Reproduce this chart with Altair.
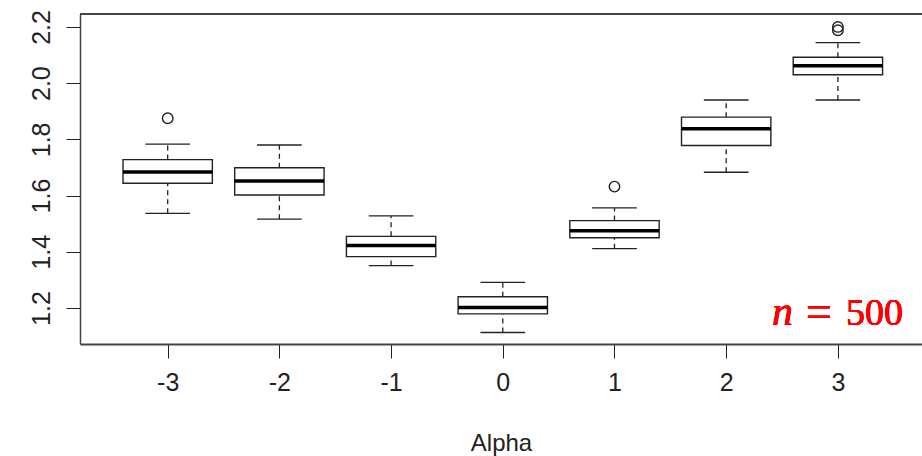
import altair as alt
import pandas as pd

# Box-plot summary values (y = estimate, x = Alpha)
alphas  = [-3, -2, -1, 0, 1, 2, 3]
lower   = [1.537, 1.516, 1.351, 1.113, 1.411, 1.683, 1.940]
q1      = [1.644, 1.602, 1.383, 1.179, 1.450, 1.778, 2.030]
median  = [1.684, 1.652, 1.422, 1.202, 1.475, 1.838, 2.062]
q3      = [1.728, 1.699, 1.455, 1.240, 1.511, 1.879, 2.092]
upper   = [1.783, 1.780, 1.528, 1.291, 1.556, 1.940, 2.144]

out_alpha = [-3, 1, 3, 3]
out_value = [1.875, 1.632, 2.200, 2.188]

x_ticks = [-3, -2, -1, 0, 1, 2, 3]
y_ticks = [1.2, 1.4, 1.6, 1.8, 2.0, 2.2]

W, H = 842, 330
BOX_HALF = 0.4
CAP_HALF = 0.2

df = pd.DataFrame(dict(alpha=alphas, lower=lower, q1=q1, median=median, q3=q3, upper=upper))
odf = pd.DataFrame(dict(alpha=out_alpha, value=out_value))

SANS = "Liberation Sans Narrow, Arial Narrow, Liberation Sans, Arial, sans-serif"
SERIF = "Liberation Serif, DejaVu Serif, serif"
INK = "#222222"
RED = "#ff0000"

xscale = alt.Scale(domain=[-3.785, 3.753], nice=False, zero=False)
yscale = alt.Scale(domain=[1.072, 2.246], nice=False, zero=False)

xaxis = alt.Axis(values=x_ticks, labelExpr="'' + datum.value", title="Alpha",
                 grid=False, tickSize=14, tickColor=INK, domainColor="#444444",
                 domainWidth=2, labelFont=SANS, labelFontSize=25, labelColor=INK,
                 labelPadding=12, titleFont=SANS, titleFontSize=24,
                 titleFontWeight="normal", titleColor=INK, titlePadding=36)
yaxis = alt.Axis(values=y_ticks, format=".1f", title=None, grid=False,
                 tickSize=14, tickColor=INK, domainColor="#444444", domainWidth=1.5,
                 labelAngle=270, labelFont=SANS, labelFontSize=25, labelColor=INK,
                 labelPadding=12)

base = alt.Chart(df).transform_calculate(
    xlo=f"datum.alpha - {BOX_HALF}", xhi=f"datum.alpha + {BOX_HALF}",
    clo=f"datum.alpha - {CAP_HALF}", chi=f"datum.alpha + {CAP_HALF}")

X = lambda f, **k: alt.X(f, type="quantitative", scale=xscale, **k)
Y = lambda f, **k: alt.Y(f, type="quantitative", scale=yscale, **k)

whisk_hi = base.mark_rule(color=INK, strokeWidth=1.3, strokeDash=[5, 4]).encode(
    x=X("alpha", axis=xaxis), y=Y("q3", axis=yaxis), y2="upper")
whisk_lo = base.mark_rule(color=INK, strokeWidth=1.3, strokeDash=[5, 4]).encode(
    x=X("alpha"), y=Y("lower"), y2="q1")
cap_hi = base.mark_rule(color=INK, strokeWidth=1.3).encode(x=X("clo"), x2="chi", y=Y("upper"))
cap_lo = base.mark_rule(color=INK, strokeWidth=1.3).encode(x=X("clo"), x2="chi", y=Y("lower"))
boxes = base.mark_rect(fill="white", stroke=INK, strokeWidth=1.4).encode(
    x=X("xlo"), x2="xhi", y=Y("q1"), y2="q3")
med = base.mark_rule(color="#000000", strokeWidth=3.5).encode(x=X("xlo"), x2="xhi", y=Y("median"))
outl = alt.Chart(odf).mark_point(shape="circle", filled=False, size=110, color=INK,
                                 strokeWidth=1.4, opacity=1).encode(x=X("alpha"), y=Y("value"))

top_rule = alt.Chart(df).mark_rule(color="#444444", strokeWidth=1.5).encode(
    x=alt.value(0), x2=alt.value(W), y=alt.value(0))

def label(txt, px, py=311, style="normal", size=38, align="left"):
    return alt.Chart(df).mark_text(text=txt, font=SERIF, fontStyle=style, fontSize=size,
                                   color=RED, align=align, baseline="alphabetic").encode(
        x=alt.value(px), y=alt.value(py))

n_txt = label("n", 692, style="italic", size=42)
eq_txt = label("=", 726, py=313, size=46)
num_txt = label("500", 823, align="right")

chart = alt.layer(whisk_hi, whisk_lo, cap_hi, cap_lo, boxes, med, outl, top_rule,
                  n_txt, eq_txt, num_txt).properties(
    width=W, height=H, autosize=alt.AutoSizeParams(type="none"),
    padding={"left": 80, "top": 14, "right": 0, "bottom": 112},
    background="white"
).configure_view(stroke=None)

chart.save("out.html", embed_options={"renderer": "svg", "actions": False})
